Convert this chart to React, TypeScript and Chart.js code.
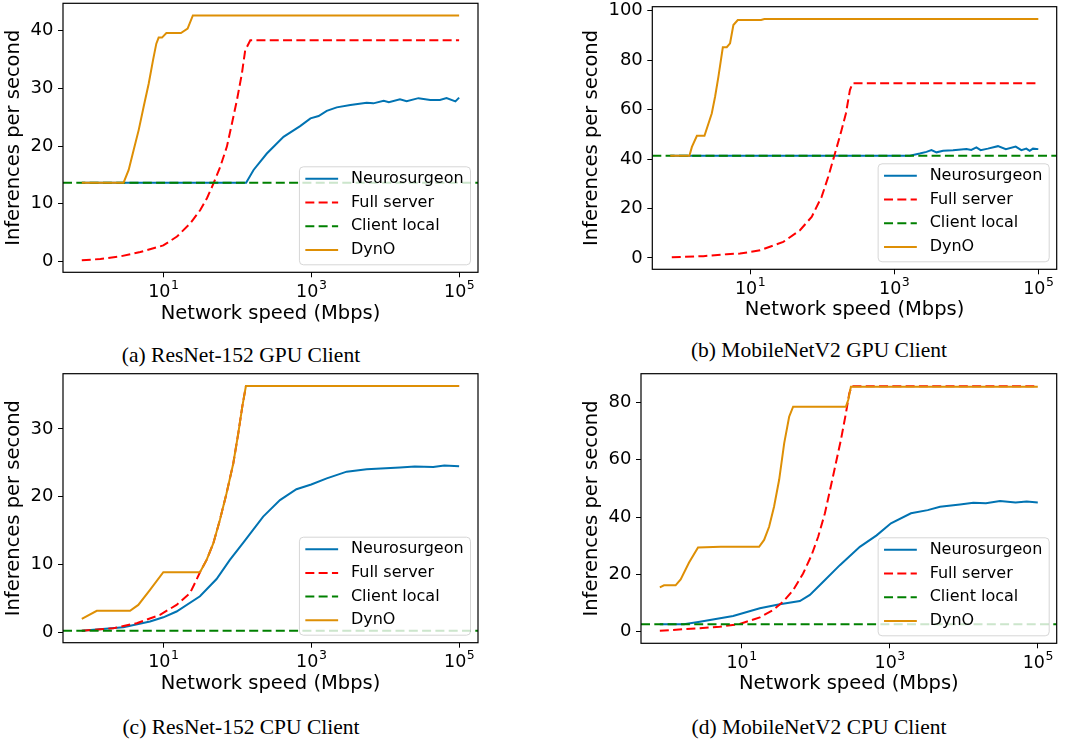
import React, { useEffect, useRef } from "react";
import { Chart, registerables } from "chart.js";
Chart.register(...registerables);

// ---------- shared ----------
const SERIES_NAMES = ["Neurosurgeon", "Full server", "Client local", "DynO"];
const X_TICKS = [10, 1000, 100000];
const X_TICK_BASE = "10";
const X_TICK_EXPONENTS = ["1", "3", "5"];
const X_LIMITS = [0.44, 180000];

// ---------- (a) ResNet-152 GPU Client ----------
const A_NEURO_X = [0.79, 131.8, 166, 251, 422, 708, 977, 1259, 1622, 2213, 3388, 5623, 6918, 9550, 11220, 15849, 19498, 28184, 40738, 54954, 67608, 89125, 100000];
const A_NEURO_Y = [13.65, 13.65, 15.85, 18.7, 21.6, 23.45, 24.8, 25.2, 26.1, 26.7, 27.1, 27.5, 27.4, 27.85, 27.6, 28.1, 27.75, 28.3, 28.0, 28.0, 28.3, 27.75, 28.4];
const A_SERVER_X = [0.79, 1.41, 2.62, 4.89, 10, 15.3, 23.2, 31.6, 38.9, 47.9, 58.9, 72.4, 84.7, 98.9, 115.6, 128, 150, 100000];
const A_SERVER_Y = [0.17, 0.41, 0.86, 1.61, 2.76, 4.3, 6.6, 8.9, 10.95, 13.55, 16.4, 19.9, 23.9, 27.95, 32.6, 36.6, 38.33, 38.33];
const A_CLIENT_Y = [13.65, 13.65];
const A_DYNO_X = [0.79, 2.9, 3.4, 3.97, 4.65, 5.42, 6.34, 7.26, 8.04, 8.65, 9.6, 11.0, 17.3, 21.3, 25.1, 100000];
const A_DYNO_Y = [13.65, 13.65, 15.85, 19.3, 22.8, 26.8, 30.8, 34.9, 37.75, 38.8, 38.8, 39.6, 39.6, 40.35, 42.65, 42.65];
const A_Y_TICKS = [0, 10, 20, 30, 40];

// ---------- (b) MobileNetV2 GPU Client ----------
const B_NEURO_X = [0.78, 1648, 2265, 2805, 3289, 3864, 4775, 6561, 10070, 11749, 13836, 15849, 19953, 27542, 35481, 48529, 58210, 68234, 75858, 84333, 100000];
const B_NEURO_Y = [41.3, 41.3, 42.2, 42.9, 43.6, 42.7, 43.3, 43.5, 44.0, 43.7, 44.7, 43.6, 44.2, 45.2, 44.0, 45.0, 43.6, 44.2, 43.3, 44.2, 44.0];
const B_SERVER_X = [0.82, 2.25, 4.75, 7.26, 13.8, 28.9, 49.3, 71.6, 98.4, 121.6, 150.7, 186.2, 213.8, 243.2, 264.9, 100000];
const B_SERVER_Y = [0.3, 0.7, 1.5, 1.76, 3.1, 6.47, 11.2, 16.6, 24.7, 32.8, 42.2, 51.7, 58.4, 67.9, 70.6, 70.6];
const B_CLIENT_Y = [41.3, 41.3];
const B_DYNO_X = [0.78, 1.44, 1.56, 1.83, 2.33, 2.94, 3.27, 3.64, 4.19, 4.75, 5.28, 5.87, 6.75, 14.2, 15.8, 100000];
const B_DYNO_Y = [41.3, 41.3, 44.9, 49.4, 49.4, 58.4, 65.2, 73.3, 85.2, 85.2, 86.8, 94.2, 96.2, 96.2, 96.6, 96.6];
const B_Y_TICKS = [0, 20, 40, 60, 80, 100];

// ---------- (c) ResNet-152 CPU Client ----------
const C_NEURO_X = [0.79, 2.88, 6.61, 10, 15.1, 31.3, 52.5, 79.4, 120, 224, 378, 631, 1000, 1622, 3020, 5623, 15849, 25119, 44668, 63096, 100000];
const C_NEURO_Y = [0.2, 0.73, 1.57, 2.2, 3.05, 5.3, 7.85, 10.67, 13.2, 17.06, 19.5, 21.1, 21.8, 22.7, 23.7, 24.05, 24.3, 24.45, 24.4, 24.6, 24.5];
const C_SERVER_X = [0.79, 2.11, 4.37, 9.02, 15.1, 22.9, 26.9, 31.3, 38.5, 47.4, 58.3, 71.6, 88.3, 103.3, 116.9, 130.9, 100000];
const C_SERVER_Y = [0.2, 0.59, 1.33, 2.56, 4.03, 5.75, 7.3, 8.85, 10.67, 13.1, 16.6, 20.5, 24.9, 29.4, 33.3, 36.35, 36.35];
const C_CLIENT_Y = [0.2, 0.2];
const C_DYNO_X = [0.79, 1.26, 3.55, 4.59, 6.61, 10, 31.3, 38.5, 47.4, 58.3, 71.6, 88.3, 103.3, 116.9, 130.9, 100000];
const C_DYNO_Y = [1.97, 3.15, 3.15, 4.03, 6.25, 8.85, 8.85, 10.67, 13.1, 16.6, 20.5, 24.9, 29.4, 33.3, 36.35, 36.35];
const C_Y_TICKS = [0, 10, 20, 30];

// ---------- (d) MobileNetV2 CPU Client ----------
const D_NEURO_X = [0.79, 1.67, 2.74, 7.71, 17.7, 32.9, 61.4, 83.8, 126.8, 212.8, 396, 667, 1042, 1941, 3266, 4786, 8913, 13490, 19953, 30903, 50119, 70795, 100000];
const D_NEURO_Y = [2.55, 2.55, 3.49, 5.47, 8.14, 9.53, 10.7, 12.8, 17.4, 23.2, 29.6, 33.6, 37.8, 41.3, 42.4, 43.6, 44.4, 45.0, 44.8, 45.6, 45.1, 45.4, 45.1];
const D_SERVER_X = [0.79, 2.74, 5.09, 9.48, 17.7, 26.7, 36.5, 49.8, 67.9, 88.3, 108.4, 133.7, 169.8, 219.8, 257, 285, 306, 100000];
const D_SERVER_Y = [0.35, 1.16, 1.74, 2.67, 5.0, 7.56, 10.47, 14.5, 20.3, 26.7, 33.1, 41.3, 53.5, 66.9, 76.2, 83.1, 85.6, 85.6];
const D_CLIENT_Y = [2.55, 2.55];
const D_DYNO_X = [0.79, 0.9, 1.29, 1.51, 1.96, 2.59, 5.25, 17.3, 20.2, 23.6, 27.5, 32.2, 37.7, 44.0, 49.8, 257, 276, 300, 100000];
const D_DYNO_Y = [15.46, 16.15, 16.15, 18.25, 24.1, 29.4, 29.6, 29.6, 32.0, 36.6, 43.6, 52.9, 65.7, 75.0, 78.5, 78.5, 80.8, 85.45, 85.45];
const D_Y_TICKS = [0, 20, 40, 60, 80];

const CAPTIONS = [
  "(a) ResNet-152 GPU Client",
  "(b) MobileNetV2 GPU Client",
  "(c) ResNet-152 CPU Client",
  "(d) MobileNetV2 CPU Client",
];

// ---------- styles ----------
const FONT = '"DejaVu Sans", sans-serif';
const COLORS = ["#0173B2", "#FF0000", "#008000", "#DE8F05"];
const DASHES: number[][] = [[], [9, 4.3], [9, 4.3], []];
const ORDERS = [3, 2, 1, 0];

type PanelCfg = {
  canvas: { left: number; top: number; w: number; h: number };
  area: { l: number; t: number; r: number; b: number };
  yMin: number;
  yMax: number;
  yTicks: number[];
  series: { x: number[]; y: number[] }[];
  caption: string;
  capX: number;
  capY: number;
};

const PANELS: PanelCfg[] = [
  {
    canvas: { left: 0, top: -12, w: 490, h: 342 },
    area: { l: 63, t: 3, r: 478, b: 272.3 },
    yMin: -1.9, yMax: 44.75, yTicks: A_Y_TICKS,
    series: [
      { x: A_NEURO_X, y: A_NEURO_Y },
      { x: A_SERVER_X, y: A_SERVER_Y },
      { x: X_LIMITS, y: A_CLIENT_Y },
      { x: A_DYNO_X, y: A_DYNO_Y },
    ],
    caption: CAPTIONS[0], capX: 241, capY: 355,
  },
  {
    canvas: { left: 578, top: -12, w: 488, h: 338 },
    area: { l: 652.3, t: 6.7, r: 1056.7, b: 269.3 },
    yMin: -4.6, yMax: 101.6, yTicks: B_Y_TICKS,
    series: [
      { x: B_NEURO_X, y: B_NEURO_Y },
      { x: B_SERVER_X, y: B_SERVER_Y },
      { x: X_LIMITS, y: B_CLIENT_Y },
      { x: B_DYNO_X, y: B_DYNO_Y },
    ],
    caption: CAPTIONS[1], capX: 819, capY: 350,
  },
  {
    canvas: { left: 0, top: 358, w: 490, h: 342 },
    area: { l: 63, t: 373.7, r: 478, b: 642.7 },
    yMin: -1.55, yMax: 38.16, yTicks: C_Y_TICKS,
    series: [
      { x: C_NEURO_X, y: C_NEURO_Y },
      { x: C_SERVER_X, y: C_SERVER_Y },
      { x: X_LIMITS, y: C_CLIENT_Y },
      { x: C_DYNO_X, y: C_DYNO_Y },
    ],
    caption: CAPTIONS[2], capX: 241, capY: 727,
  },
  {
    canvas: { left: 578, top: 358, w: 488, h: 342 },
    area: { l: 641, t: 373.7, r: 1056.7, b: 643.3 },
    yMin: -4.06, yMax: 90.0, yTicks: D_Y_TICKS,
    series: [
      { x: D_NEURO_X, y: D_NEURO_Y },
      { x: D_SERVER_X, y: D_SERVER_Y },
      { x: X_LIMITS, y: D_CLIENT_Y },
      { x: D_DYNO_X, y: D_DYNO_Y },
    ],
    caption: CAPTIONS[3], capX: 819, capY: 726.7,
  },
];

const framePlugin = {
  id: "frame",
  afterDatasetsDraw(chart: any) {
    const { ctx, chartArea: a } = chart;
    ctx.save();
    ctx.strokeStyle = "#000";
    ctx.lineWidth = 1.2;
    ctx.strokeRect(a.left, a.top, a.right - a.left, a.bottom - a.top);
    ctx.restore();
  },
};

// matplotlib-style 10^n tick labels (mantissa + raised exponent)
const powerTicksPlugin = {
  id: "powerTicks",
  afterDraw(chart: any) {
    const { ctx, chartArea: a } = chart;
    const xs = chart.scales.x;
    ctx.save();
    ctx.fillStyle = "#000";
    ctx.textBaseline = "alphabetic";
    ctx.textAlign = "left";
    X_TICKS.forEach((v, i) => {
      const px = xs.getPixelForValue(v);
      ctx.font = `17.5px ${FONT}`;
      const wb = ctx.measureText(X_TICK_BASE).width;
      ctx.font = `12.5px ${FONT}`;
      const we = ctx.measureText(X_TICK_EXPONENTS[i]).width;
      const x0 = px - (wb + we) / 2;
      const base = a.bottom + 24.7;
      ctx.font = `17.5px ${FONT}`;
      ctx.fillText(X_TICK_BASE, x0, base);
      ctx.font = `12.5px ${FONT}`;
      ctx.fillText(X_TICK_EXPONENTS[i], x0 + wb + 0.5, base - 8);
    });
    ctx.restore();
  },
};

const legendPlugin = {
  id: "mplLegend",
  afterDraw(chart: any) {
    const { ctx, chartArea: a } = chart;
    const fs = 16;
    ctx.save();
    ctx.font = `${fs}px ${FONT}`;
    const ds = chart.data.datasets;
    const maxW = Math.max(...ds.map((d: any) => ctx.measureText(d.label).width));
    const pad = fs * 0.4;
    const handle = fs * 2.05;
    const textPad = fs * 0.8;
    const bw = pad + handle + textPad + maxW + pad;
    const bh = 98;
    const x1 = a.right - 8;
    const y1 = a.bottom - 8;
    const x0 = x1 - bw;
    const y0 = y1 - bh;
    ctx.beginPath();
    ctx.roundRect(x0 + 0.5, y0 + 0.5, bw, bh, 4);
    ctx.fillStyle = "rgba(255,255,255,0.8)";
    ctx.fill();
    ctx.strokeStyle = "rgba(204,204,204,0.8)";
    ctx.lineWidth = 1;
    ctx.stroke();
    ds.forEach((d: any, i: number) => {
      const cy = y0 + 12.5 + i * 23.7;
      ctx.beginPath();
      ctx.setLineDash(d.borderDash || []);
      ctx.strokeStyle = d.borderColor;
      ctx.lineWidth = 2;
      ctx.moveTo(x0 + pad, cy);
      ctx.lineTo(x0 + pad + handle, cy);
      ctx.stroke();
      ctx.setLineDash([]);
      ctx.fillStyle = "#000";
      ctx.textBaseline = "middle";
      ctx.textAlign = "left";
      ctx.fillText(d.label, x0 + pad + handle + textPad, cy);
    });
    ctx.restore();
  },
};

function Panel({ cfg }: { cfg: PanelCfg }) {
  const ref = useRef<HTMLCanvasElement>(null);
  const { canvas: cv, area } = cfg;
  useEffect(() => {
    if (!ref.current) return;
    const padTop = area.t - cv.top;
    const padRight = cv.left + cv.w - area.r;
    const yW = area.l - cv.left;
    const xH = cv.top + cv.h - area.b;
    const chart = new Chart(ref.current, {
      type: "line",
      data: {
        datasets: cfg.series.map((s, i) => ({
          label: SERIES_NAMES[i],
          data: s.x.map((x, j) => ({ x, y: s.y[j] })),
          borderColor: COLORS[i],
          backgroundColor: COLORS[i],
          borderWidth: 2,
          borderDash: DASHES[i],
          pointRadius: 0,
          fill: false,
          tension: 0,
          order: ORDERS[i],
        })),
      },
      options: {
        animation: false,
        responsive: false,
        devicePixelRatio: 1,
        layout: { padding: { top: padTop, right: padRight, left: 0, bottom: 0 } },
        plugins: { legend: { display: false }, tooltip: { enabled: false } },
        scales: {
          x: {
            type: "logarithmic",
            min: X_LIMITS[0],
            max: X_LIMITS[1],
            afterFit: (s: any) => {
              s.height = xH;
            },
            afterBuildTicks: (s: any) => {
              s.ticks = X_TICKS.map((v) => ({ value: v }));
            },
            ticks: { display: false, autoSkip: false, maxRotation: 0 },
            grid: { display: true, drawOnChartArea: false, drawTicks: true, tickLength: 5, color: "#000", lineWidth: 1 },
            border: { display: false },
            title: {
              display: true,
              text: "Network speed (Mbps)",
              color: "#000",
              font: { family: FONT, size: 19.5 },
              padding: { top: 0, bottom: 4 },
            },
          },
          y: {
            type: "linear",
            min: cfg.yMin,
            max: cfg.yMax,
            afterFit: (s: any) => {
              s.width = yW;
            },
            afterBuildTicks: (s: any) => {
              s.ticks = cfg.yTicks.map((v) => ({ value: v }));
            },
            ticks: {
              padding: 4.5,
              color: "#000",
              font: { family: FONT, size: 18 },
              callback: (v: any) => String(v),
            },
            grid: { display: true, drawOnChartArea: false, drawTicks: true, tickLength: 5, color: "#000", lineWidth: 1 },
            border: { display: false },
            title: {
              display: true,
              text: "Inferences per second",
              color: "#000",
              font: { family: FONT, size: 19.5 },
              padding: { top: 2, bottom: 0 },
            },
          },
        },
      } as any,
      plugins: [framePlugin, powerTicksPlugin, legendPlugin],
    });
    return () => chart.destroy();
  }, []);
  return (
    <>
      <canvas
        ref={ref}
        width={cv.w}
        height={cv.h}
        style={{ position: "absolute", left: cv.left, top: cv.top, width: cv.w, height: cv.h }}
      />
      <div
        style={{
          position: "absolute",
          left: cfg.capX - 200,
          top: cfg.capY - 13,
          width: 400,
          height: 26,
          lineHeight: "26px",
          textAlign: "center",
          fontFamily: '"Liberation Serif", serif',
          fontSize: 21.5,
          color: "#000",
          whiteSpace: "nowrap",
        }}
      >
        {cfg.caption}
      </div>
    </>
  );
}

export default function App() {
  return (
    <div
      style={{
        position: "absolute",
        left: 0,
        top: 0,
        width: 1066,
        height: 743,
        background: "#fff",
        overflow: "hidden",
      }}
    >
      {PANELS.map((p, i) => (
        <Panel key={i} cfg={p} />
      ))}
    </div>
  );
}
